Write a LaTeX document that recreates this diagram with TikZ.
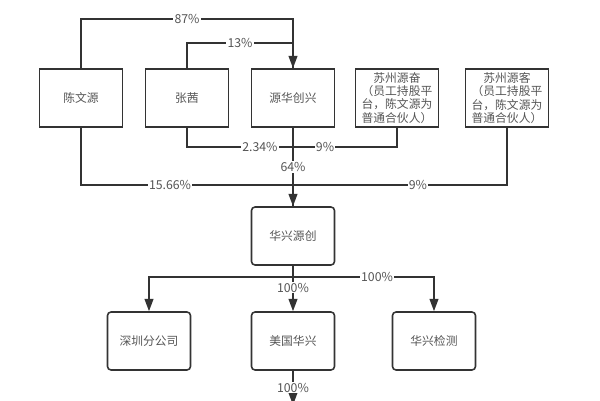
\documentclass[tikz,border=0pt]{standalone}
\usepackage{fontspec}
\setmainfont{Noto Sans CJK SC}
\usepackage{tikz}
\usetikzlibrary{arrows.meta,positioning,calc}
\definecolor{LineGray}{HTML}{333333}
\definecolor{TextGray}{HTML}{555555}

\tikzset{
  box/.style={draw=LineGray,line width=0.9pt,minimum width=1.66cm,minimum height=1.16cm,
    inner sep=1pt,align=center,text=TextGray,font=\fontsize{6.7}{7.5}\selectfont},
  rbox/.style={box,rounded corners=2pt},
  link/.style={draw=LineGray,line width=0.9pt},
  arr/.style={link,-{Triangle[length=7pt,width=5pt]}},
  pct/.style={fill=white,inner sep=0.6pt,text=TextGray,font=\fontsize{7}{8}\selectfont}
}

\begin{document}
\begin{tikzpicture}[x=0.02cm,y=-0.02cm]
  \useasboundingbox (0,0) rectangle (600,400);
  % top row
  \node[box] (chen) at (81,98) {陈文源};
  \node[box] (zq) at (187,98) {张茜};
  \node[box] (yhcx) at (293,98) {源华创兴};
  \node[box] (yf) at (397,98) {苏州源奋\\（员工持股平\\台，陈文源为\\普通合伙人）};
  \node[box] (yk) at (507,98) {苏州源客\\（员工持股平\\台，陈文源为\\普通合伙人）};
  % main company and subsidiaries
  \node[rbox] (hxyc) at (293,236) {华兴源创};
  \node[rbox] (szfgs) at (149,341) {深圳分公司};
  \node[rbox] (mghx) at (293,341) {美国华兴};
  \node[rbox] (hxjc) at (434,341) {华兴检测};
  \coordinate (cut) at (293,405);

  % holdings in yhcx
  \draw[arr] (chen.north) -- ++(0,-49) -| node[pct,pos=0.25]{87\%} (yhcx.north);
  \draw[link] (zq.north) -- ++(0,-25) -| node[pct,pos=0.25]{13\%} (yhcx.north);
  % holdings in hxyc
  \draw[arr] (yhcx.south) -- node[pct,pos=0.5]{64\%} (hxyc.north);
  \draw[link] (zq.south) -- ++(0,19) -| node[pct,pos=0.344]{2.34\%} (yhcx.south);
  \draw[link] (yf.south) -- ++(0,19) -| node[pct,pos=0.346]{9\%} (yhcx.south);
  \draw[link] (chen.south) -- ++(0,57) -| node[pct,pos=0.21]{15.66\%} (hxyc.north);
  \draw[link] (yk.south) -- ++(0,57) -| node[pct,pos=0.208]{9\%} (hxyc.north);

  % subsidiaries
  \draw[link] (hxyc.south) -- ++(0,11) coordinate (split);
  \draw[arr] (split) -| (szfgs.north);
  \draw[arr] (split) -| node[pct,pos=0.298]{100\%} (hxjc.north);
  \draw[arr] (hxyc.south) -- node[pct,pos=0.48]{100\%} (mghx.north);
  \draw[arr] (mghx.south) -- node[pct,pos=0.49]{100\%} (cut);
\end{tikzpicture}
\end{document}
